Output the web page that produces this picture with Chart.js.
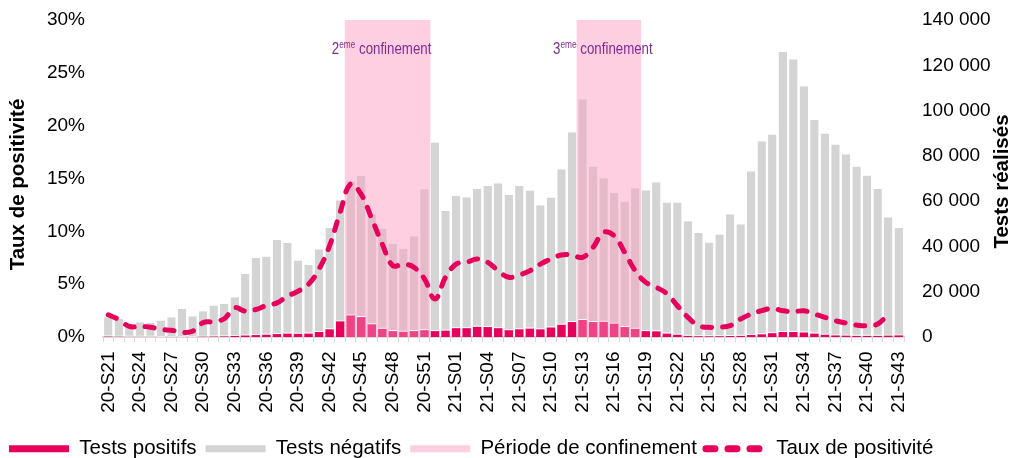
<!DOCTYPE html>
<html lang="fr">
<head>
<meta charset="utf-8">
<title>Tests et taux de positivité</title>
<script src="https://cdn.jsdelivr.net/npm/chart.js@4.4.1/dist/chart.umd.min.js"></script>
<style>
  html, body { margin: 0; padding: 0; background: #fff; }
  #wrap { position: relative; width: 1013px; height: 458px; }
</style>
</head>
<body>
<div id="wrap"><canvas id="barChart"></canvas></div>
<script>
// semaines : 20-S21 ... 20-S53 puis 21-S01 ... 21-S43
var semaines = [];
for (var s = 21; s <= 53; s++) semaines.push('20-S' + s);
for (var s = 1; s <= 43; s++) semaines.push('21-S' + (s < 10 ? '0' + s : s));

var positifs = [
  180, 130, 60, 65, 60, 50, 55, 55, 50, 155,
  200, 250, 490, 650, 850, 1000, 1300, 1500, 1400, 1500,
  2200, 3400, 6900, 9500, 8800, 5600, 3600, 2600, 2300, 2600,
  3000, 2600, 2800, 3900, 3900, 4500, 4400, 3900, 3000, 3400,
  3700, 3400, 4200, 5400, 6600, 7500, 6600, 6700, 5900, 4400,
  3600, 2600, 2500, 1500, 1000, 500, 350, 300, 350, 450,
  500, 900, 1200, 1700, 2200, 2200, 2000, 1500, 1000, 700,
  600, 500, 500, 500, 600, 700
];

var negatifs = [
  8580, 7920, 5780, 6490, 6220, 7250, 8700, 12420, 9150, 11250,
  13730, 14430, 17110, 27300, 34150, 34600, 41700, 40000, 32400, 30400,
  36500, 44700, 53500, 59300, 62300, 48600, 44200, 38600, 36700, 41850,
  62200, 83300, 52800, 58400, 57800, 61000, 62300, 64000, 59700, 63300,
  61000, 54800, 57400, 68700, 83800, 97500, 68700, 63400, 57700, 55400,
  62100, 62200, 65800, 57900, 58400, 50600, 45550, 41400, 44950, 53750,
  49300, 72300, 85300, 87700, 123800, 120500, 108700, 94300, 88900, 84300,
  80100, 74800, 70800, 64900, 52300, 47600
];

// taux de positivité en %
var taux = [
  2.1, 1.65, 1.0, 1.0, 0.93, 0.71, 0.64, 0.45, 0.55, 1.36,
  1.45, 1.73, 2.76, 2.44, 2.6, 2.98, 3.23, 3.86, 4.33, 5.0,
  6.43, 8.64, 11.8, 14.5, 13.5, 11.2, 8.8, 6.75, 6.9, 6.6,
  5.5, 3.6, 5.65, 6.9, 7.07, 7.38, 7.07, 6.27, 5.65, 5.87,
  6.27, 6.9, 7.38, 7.76, 7.76, 7.54, 8.49, 9.9, 9.58, 8.0,
  6.27, 5.17, 4.7, 4.1, 2.96, 1.86, 1.07, 0.92, 0.92, 1.07,
  1.7, 2.18, 2.49, 2.71, 2.49, 2.39, 2.49, 2.18, 1.86, 1.54,
  1.32, 1.13, 1.07, 1.23, 2.18, null
];

var confinementNoms = ['2', '3'];
var confinementDebut = ['20-S44', '21-S13'];
var confinementFin = ['20-S51', '21-S18'];

var tauxTicks = [0, 5, 10, 15, 20, 25, 30];
var testsTicks = [0, 20000, 40000, 60000, 80000, 100000, 120000, 140000];

var FONT = "'Liberation Sans', Arial, sans-serif";
var ROSE = '#E6005C', ROSE_CONF = '#EE4385';
var GRIS = '#D4D4D4', GRIS_CONF = '#E5BAC9';
var FOND_CONF = '#FDCFE0';
var testsMax = testsTicks[testsTicks.length - 1];

function enConfinement(i) {
  for (var k = 0; k < confinementNoms.length; k++) {
    if (i >= semaines.indexOf(confinementDebut[k]) && i <= semaines.indexOf(confinementFin[k])) return true;
  }
  return false;
}

// periode de confinement : barre pleine hauteur derriere les tests
var confData = semaines.map(function (sem, i) {
  return enConfinement(i) ? testsMax : null;
});

function milliers(v) {
  return String(v).replace(/\B(?=(\d{3})+(?!\d))/g, ' ');
}

// textes "2eme confinement" au dessus des zones
var confinementLabels = {
  id: 'confinementLabels',
  afterDatasetsDraw: function (chart) {
    var ctx = chart.ctx, xs = chart.scales.x, top = chart.chartArea.top;
    var big = '16px ' + FONT, small = '10px ' + FONT, serre = 0.83;
    ctx.save();
    ctx.fillStyle = '#7F2C8F';
    ctx.textBaseline = 'alphabetic';
    ctx.textAlign = 'left';
    for (var k = 0; k < confinementNoms.length; k++) {
      var a = xs.getPixelForValue(semaines.indexOf(confinementDebut[k]));
      var b = xs.getPixelForValue(semaines.indexOf(confinementFin[k]));
      var cx = (a + b) / 2 - 6;
      ctx.font = big;
      var w1 = ctx.measureText(confinementNoms[k]).width;
      var w3 = ctx.measureText(' confinement').width;
      ctx.font = small;
      var w2 = ctx.measureText('eme').width;
      var y = top + 34;
      ctx.save();
      ctx.translate(cx - (w1 + w2 + w3) * serre / 2, y);
      ctx.scale(serre, 1);
      ctx.font = big;
      ctx.fillText(confinementNoms[k], 0, 0);
      ctx.font = small;
      ctx.fillText('eme', w1, -6);
      ctx.font = big;
      ctx.fillText(' confinement', w1 + w2, 0);
      ctx.restore();
    }
    ctx.restore();
  }
};

// titres des deux axes verticaux, lus de bas en haut
var titresAxes = {
  id: 'titresAxes',
  afterDraw: function (chart) {
    var ctx = chart.ctx, area = chart.chartArea, mid = (area.top + area.bottom) / 2;
    var titres = [
      { text: 'Taux de positivité', x: 18, y: mid + 6 },
      { text: 'Tests réalisés', x: chart.width - 11, y: mid + 3 }
    ];
    ctx.save();
    ctx.font = 'bold 20.5px ' + FONT;
    ctx.fillStyle = '#000';
    ctx.textAlign = 'center';
    ctx.textBaseline = 'middle';
    titres.forEach(function (t) {
      ctx.save();
      ctx.translate(t.x, t.y);
      ctx.rotate(-Math.PI / 2);
      ctx.fillText(t.text, 0, 0);
      ctx.restore();
    });
    ctx.restore();
  }
};

Chart.defaults.font.family = FONT;
Chart.defaults.font.size = 19;
Chart.defaults.color = '#000';

var chart = new Chart(document.getElementById('barChart').getContext('2d'), {
  type: 'bar',
  data: {
    labels: semaines,
    datasets: [
      {
        type: 'bar', label: 'Tests positifs', data: positifs,
        backgroundColor: function (c) { return enConfinement(c.dataIndex) ? ROSE_CONF : ROSE; },
        couleurLegende: ROSE,
        stack: 'tests', yAxisID: 'y', order: 2,
        barPercentage: 0.8, categoryPercentage: 1
      },
      {
        type: 'bar', label: 'Tests négatifs', data: negatifs,
        backgroundColor: function (c) { return enConfinement(c.dataIndex) ? GRIS_CONF : GRIS; },
        couleurLegende: GRIS,
        stack: 'tests', yAxisID: 'y', order: 2,
        barPercentage: 0.8, categoryPercentage: 1,
        borderColor: '#fff', borderSkipped: false,
        borderWidth: {top: 0, right: 0, bottom: 1, left: 0}
      },
      {
        type: 'bar', label: 'Période de confinement', data: confData,
        backgroundColor: FOND_CONF, couleurLegende: FOND_CONF,
        stack: 'conf', grouped: false, yAxisID: 'y', order: 3,
        barPercentage: 1.12, categoryPercentage: 1
      },
      {
        type: 'line', label: 'Taux de positivité', data: taux, yAxisID: 'yTaux', order: 0,
        borderColor: ROSE, borderWidth: 5, borderDash: [9, 11], borderCapStyle: 'round',
        tension: 0.4, pointRadius: 0, fill: false
      }
    ]
  },
  options: {
    responsive: true,
    maintainAspectRatio: false,
    animation: false,
    layout: { padding: { top: 20, left: 0, right: 0, bottom: -11 } },
    plugins: {
      tooltip: { enabled: false },
      legend: {
        position: 'bottom',
        align: 'start',
        labels: {
          usePointStyle: true,
          pointStyleWidth: 60,
          boxHeight: 7,
          padding: 9,
          font: { size: 20.5 },
          generateLabels: function (chart) {
            return chart.data.datasets.map(function (ds, i) {
              var tirets = !!ds.borderDash;
              return {
                text: ds.label,
                datasetIndex: i,
                fillStyle: tirets ? 'rgba(0,0,0,0)' : ds.couleurLegende,
                strokeStyle: tirets ? ds.borderColor : ds.couleurLegende,
                lineWidth: tirets ? 7 : 0,
                lineDash: tirets ? [9, 13] : [],
                lineCap: 'round',
                pointStyle: tirets ? 'line' : 'rect',
                fontColor: '#000',
                hidden: false
              };
            });
          }
        }
      }
    },
    scales: {
      x: {
        grid: { display: true, drawOnChartArea: false, drawTicks: true, tickLength: 5, color: '#D9D9D9', offset: true },
        border: { display: true, color: '#D9D9D9', width: 2 },
        ticks: {
          autoSkip: false, maxRotation: 90, minRotation: 90, padding: 9.5,
          callback: function (v, i) { return i % 3 === 0 ? this.getLabelForValue(v) : ''; }
        },
        afterFit: function (axis) { axis.height = 92.5; axis.paddingLeft = 0; axis.paddingRight = 0; }
      },
      yTaux: {
        position: 'left',
        min: tauxTicks[0], max: tauxTicks[tauxTicks.length - 1],
        afterBuildTicks: function (axis) { axis.ticks = tauxTicks.map(function (v) { return {value: v}; }); },
        ticks: { padding: 18, callback: function (v) { return v + '%'; } },
        grid: { display: false, drawTicks: false },
        border: { display: false },
        afterFit: function (axis) { axis.width = 103; axis.paddingTop = 0; axis.paddingBottom = 0; }
      },
      y: {
        position: 'right',
        min: testsTicks[0], max: testsMax,
        afterBuildTicks: function (axis) { axis.ticks = testsTicks.map(function (v) { return {value: v}; }); },
        ticks: { padding: 18, callback: function (v) { return milliers(v); } },
        grid: { display: false, drawTicks: false },
        border: { display: false },
        afterFit: function (axis) { axis.width = 109; axis.paddingTop = 0; axis.paddingBottom = 0; }
      }
    }
  },
  plugins: [confinementLabels, titresAxes]
});
</script>
</body>
</html>
